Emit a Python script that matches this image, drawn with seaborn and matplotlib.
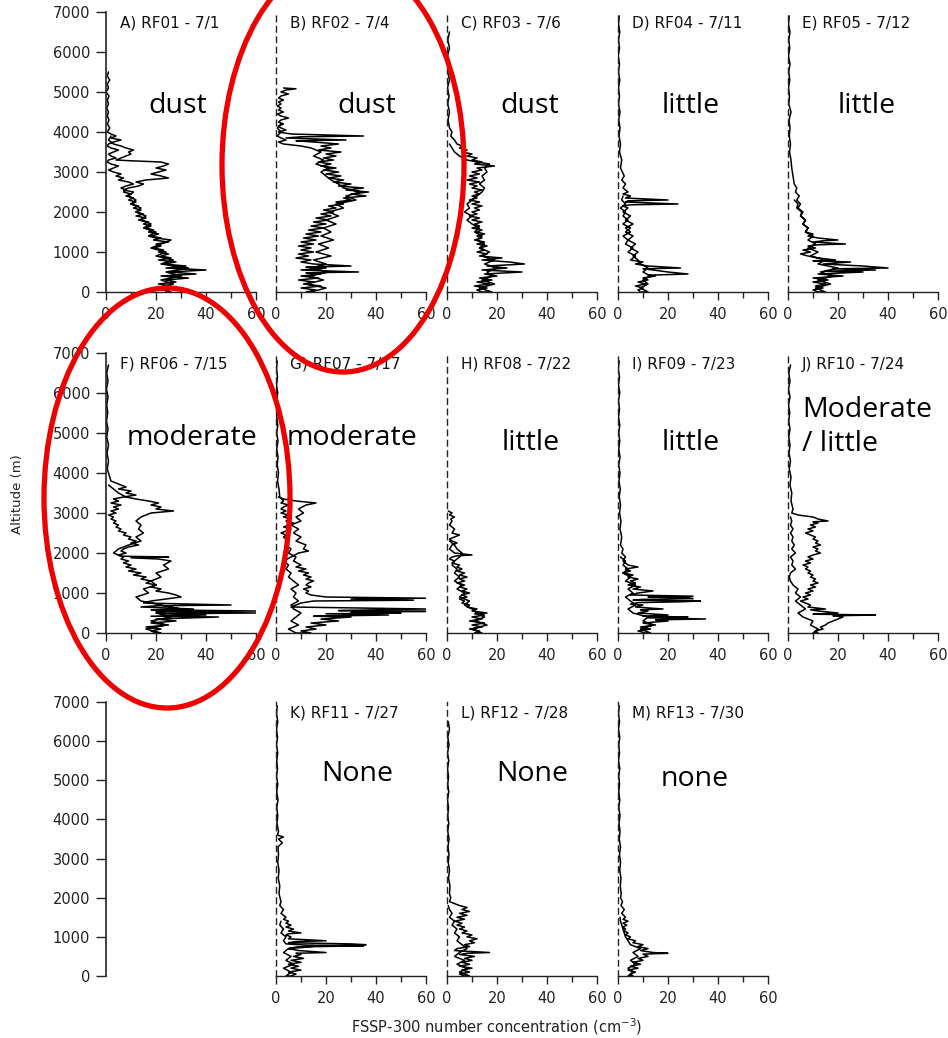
import matplotlib
matplotlib.use("Agg")
import matplotlib.pyplot as plt
from matplotlib.patches import Ellipse
import seaborn as sns
import pandas as pd

# ---------------- data: (altitude m, FSSP-300 concentration cm^-3) ----------------
rf01 = [(5500,1),(5400,0.5),(5300,1.5),(5200,0.5),(5100,1),(5000,0),(4900,1.2),(4800,0.5),(4700,1),(4600,0.3),
        (4500,1),(4400,0.5),(4300,1.2),(4200,0.6),(4100,1.5),(4000,0.5),(3950,2),(3900,4),(3850,2),(3800,6),
        (3750,3),(3700,1),(3650,0.5),(3600,2),(3550,5),(3500,3),(3450,1),(3400,2),(3350,4),(3300,1),(3250,0.5),
        (3200,2),(3150,5),(3100,3),(3050,1),(3000,3),(2950,6),(2900,4),(2850,7),(2800,5),(2750,9),(2700,11),
        (2650,8),(2600,6),(2550,8),(2500,7),(2450,10),(2400,8),(2350,11),(2300,9),(2250,12),(2200,10),(2150,13),
        (2100,11),(2050,14),(2000,12),(1950,15),(1900,12),(1850,16),(1800,13),(1750,17),(1700,15),(1650,18),
        (1600,16),(1550,19),(1500,17),(1450,21),(1400,18),(1350,22),(1300,19),(1250,25),(1200,20),(1150,22),
        (1100,19),(1050,23),(1000,21),(950,25),(900,22),(850,26),(800,21),(750,28),(700,23),(650,32),(600,24),
        (550,40),(500,25),(450,36),(400,22),(350,33),(300,24),(250,28),(200,21),(150,26),(100,22),(50,25),(0,24),
        (0,26),(100,20),(200,27),(300,22),(400,30),(500,24),(600,33),(700,22),(800,27),(900,20),(1000,24),
        (1100,18),(1200,22),(1300,26),(1350,20),(1400,17),(1500,20),(1600,15),(1700,18),(1800,14),(1900,16),
        (2000,12),(2100,14),(2200,10),(2300,12),(2400,9),(2500,11),(2550,7),(2600,9),(2650,13),(2700,15),
        (2750,12),(2800,16),(2850,25),(2900,22),(2950,18),(3000,21),(3050,24),(3100,20),(3150,23),(3200,25),
        (3250,22),(3280,10),(3300,4),(3350,6),(3400,8),(3450,10),(3500,9),(3550,11),(3600,8),(3650,6),(3700,3),
        (3800,1),(3900,2)]

rf02 = [(5100,3),(5080,8),(5050,4),(5000,2),(4950,5),(4900,2),(4850,1),(4800,3),(4750,1),(4700,2),(4650,0.5),
        (4600,2),(4550,1),(4500,3),(4450,0.5),(4400,2),(4350,5),(4300,2),(4250,1),(4200,3),(4150,1),(4100,2),
        (4050,4),(4000,1),(3950,6),(3900,35),(3880,10),(3850,4),(3800,28),(3780,8),(3750,15),(3700,25),(3650,18),
        (3600,22),(3550,17),(3500,26),(3450,20),(3400,24),(3350,19),(3300,23),(3250,17),(3200,22),(3150,18),
        (3100,24),(3050,19),(3000,25),(2950,20),(2900,26),(2850,21),(2800,27),(2750,23),(2700,30),(2650,25),
        (2600,35),(2550,28),(2500,37),(2450,30),(2400,36),(2350,27),(2300,30),(2250,24),(2200,27),(2150,21),
        (2100,24),(2050,19),(2000,23),(1950,18),(1900,22),(1850,16),(1800,21),(1750,15),(1700,20),(1650,14),
        (1600,19),(1550,13),(1500,18),(1450,12),(1400,17),(1350,11),(1300,16),(1250,10),(1200,15),(1150,9),
        (1100,14),(1050,10),(1000,15),(950,9),(900,13),(850,8),(800,14),(750,10),(700,15),(650,30),(620,12),
        (600,20),(550,10),(500,33),(480,12),(450,18),(400,10),(350,17),(300,9),(250,15),(200,11),(150,18),
        (100,10),(50,16),(0,12),
        (0,14),(100,20),(200,12),(300,19),(400,13),(500,21),(600,14),(700,20),(800,15),(900,22),(1000,16),
        (1100,21),(1200,17),(1300,23),(1400,18),(1500,22),(1600,19),(1700,24),(1800,20),(1900,25),(2000,21),
        (2100,27),(2200,24),(2300,32),(2400,28),(2500,34),(2600,27),(2700,25),(2800,22),(2900,20),(3000,18),
        (3100,21),(3200,16),(3300,19),(3400,15),(3500,18),(3600,14),(3650,10),(3700,3),(3750,1),(3800,4),
        (3850,2),(3900,0.5),(4000,2),(4100,0.5),(4200,2)]

rf03 = [(6500,1),(6300,0.3),(6100,1),(5900,0.2),(5700,0.8),(5500,0.3),(5300,1),(5100,0.2),(4900,0.8),(4700,0.3),
        (4500,1),(4300,0.4),(4100,1),(4000,2),(3900,1.5),(3800,3),(3700,4),(3650,6),(3600,5),(3550,8),(3500,6),
        (3450,10),(3400,8),(3350,12),(3300,10),(3250,14),(3200,11),(3150,19),(3100,12),(3050,14),(3000,10),
        (2950,13),(2900,9),(2850,12),(2800,8),(2750,13),(2700,9),(2650,12),(2600,10),(2550,14),(2500,11),
        (2450,13),(2400,10),(2350,12),(2300,9),(2250,13),(2200,10),(2150,14),(2100,11),(2050,13),(2000,10),
        (1950,12),(1900,9),(1850,13),(1800,10),(1750,14),(1700,11),(1650,13),(1600,10),(1550,14),(1500,12),
        (1450,15),(1400,12),(1350,14),(1300,11),(1250,15),(1200,12),(1150,16),(1100,13),(1050,15),(1000,12),
        (950,16),(900,13),(850,22),(800,14),(750,25),(700,31),(650,16),(600,24),(550,14),(500,30),(450,15),
        (400,20),(350,13),(300,18),(250,12),(200,17),(150,11),(100,16),(50,12),(0,14),
        (0,18),(100,13),(200,19),(300,14),(400,18),(500,16),(600,20),(700,15),(800,19),(900,14),(1000,17),
        (1100,13),(1200,15),(1300,12),(1400,14),(1500,11),(1600,13),(1700,10),(1800,8),(1900,10),(2000,7),
        (2100,9),(2200,8),(2300,10),(2400,12),(2500,14),(2600,15),(2700,13),(2800,15),(2900,14),(3000,16),
        (3100,15),(3200,17),(3250,12),(3300,8),(3400,5),(3500,3),(3600,2),(3700,1)]

rf04 = [(6900,0.5),(6700,0.2),(6500,0.7),(6300,0.2),(6100,0.6),(5900,0.1),(5700,0.6),(5500,0.2),(5300,0.7),
        (5100,0.2),(4900,0.6),(4700,0.2),(4500,0.8),(4300,0.3),(4100,0.8),(3900,0.4),(3700,1),(3500,0.6),
        (3300,1.5),(3100,1),(2900,2.5),(2800,1.5),(2700,3),(2600,2),(2500,4),(2450,2),(2400,5),(2350,3),
        (2300,20),(2280,4),(2250,3),(2200,24),(2180,5),(2150,2),(2100,4),(2000,2),(1900,5),(1800,3),(1700,6),
        (1600,3),(1500,5),(1400,2),(1300,4),(1200,3),(1100,6),(1000,4),(900,7),(800,5),(750,10),(700,7),
        (650,12),(600,25),(580,10),(550,14),(500,20),(450,28),(420,12),(400,15),(350,10),(300,12),(250,8),
        (200,11),(150,7),(100,10),(50,8),(0,9),
        (0,12),(100,9),(200,12),(300,10),(400,13),(500,10),(600,12),(700,9),(800,8),(900,6),(1000,8),(1100,5),
        (1200,7),(1300,4),(1400,6),(1500,3),(1600,5),(1700,2),(1800,4),(1900,2),(2000,3),(2100,1),(2200,3),
        (2300,1.5),(2400,2)]

rf05 = [(6900,0.5),(6700,0.2),(6500,0.8),(6300,0.3),(6100,0.7),(5900,0.2),(5700,0.8),(5500,0.3),(5300,0.7),
        (5100,0.2),(4900,0.6),(4700,0.3),(4500,1.2),(4300,0.4),(4100,0.8),(3900,0.5),(3700,1),(3500,0.6),
        (3300,1.2),(3100,1.5),(2900,2),(2700,2.5),(2600,3.5),(2500,3),(2400,4.5),(2300,3.5),(2200,5),(2100,4),
        (2000,6),(1900,5),(1800,7),(1700,6),(1600,8),(1500,7),(1450,10),(1400,8),(1350,12),(1300,20),(1280,14),
        (1250,10),(1200,23),(1180,12),(1150,8),(1100,11),(1050,6),(1000,9),(950,5),(900,8),(850,12),(800,19),
        (780,10),(750,25),(700,14),(650,30),(600,40),(580,18),(550,35),(520,15),(500,30),(450,12),(400,22),
        (350,10),(300,16),(250,10),(200,15),(150,11),(100,14),(50,10),(0,12),
        (0,15),(100,11),(200,17),(300,12),(400,18),(500,13),(600,20),(700,12),(800,15),(900,9),(1000,12),
        (1100,8),(1200,11),(1300,8),(1400,10),(1500,7),(1600,8),(1700,6),(1800,7),(1900,5),(2000,5.5),
        (2100,3.5),(2200,4),(2300,2.5)]

rf06 = [(6700,1),(6500,0.3),(6300,0.8),(6100,0.2),(5900,0.8),(5700,0.3),(5500,0.7),(5300,0.2),(5100,0.8),
        (4900,0.3),(4700,1),(4500,0.4),(4300,1),(4100,0.5),(3900,1.5),(3800,2),(3750,4),(3700,6),(3650,8),
        (3600,5),(3550,10),(3500,8),(3450,12),(3400,7),(3350,3),(3300,5),(3250,2),(3200,6),(3150,3),(3100,5),
        (3050,2),(3000,4),(2950,1),(2900,3),(2850,2),(2800,4),(2750,3),(2700,5),(2650,4),(2600,6),(2550,5),
        (2500,8),(2450,7),(2400,10),(2350,9),(2300,12),(2250,10),(2200,13),(2150,9),(2100,7),(2050,6),(2000,8),
        (1950,5),(1900,7),(1850,6),(1800,9),(1750,7),(1700,10),(1650,8),(1600,12),(1550,9),(1500,14),(1450,11),
        (1400,16),(1350,14),(1300,18),(1250,16),(1200,20),(1150,18),(1100,22),(1050,20),(1000,25),(950,28),
        (900,30),(850,24),(800,18),(750,15),(700,50),(680,20),(650,14),(600,35),(580,18),(550,60),(530,20),
        (500,60),(480,22),(450,40),(420,18),(400,45),(350,20),(300,28),(250,18),(200,25),(150,16),(100,22),
        (50,18),(0,20),
        (0,22),(100,16),(200,24),(300,18),(400,26),(500,20),(600,30),(700,22),(800,14),(900,12),(1000,17),
        (1100,15),(1200,20),(1300,18),(1400,22),(1500,20),(1600,25),(1700,23),(1800,26),(1850,21),(1880,10),
        (1900,25),(1920,6),(2000,3),(2100,5),(2200,9),(2300,14),(2400,12),(2500,15),(2600,13),(2700,14),
        (2800,12),(2900,14),(3000,18),(3050,27),(3100,20),(3150,22),(3200,18),(3250,21),(3300,17),(3350,12),
        (3400,8),(3500,5),(3600,3),(3700,1)]

rf07 = [(6800,0.5),(6600,0.2),(6400,0.6),(6200,0.2),(6000,0.7),(5800,0.2),(5600,0.6),(5400,0.3),(5200,0.7),
        (5000,0.3),(4800,0.8),(4600,0.3),(4400,0.8),(4200,0.5),(4000,1),(3800,0.6),(3600,1.2),(3400,1.5),
        (3300,3),(3250,2),(3200,5),(3150,3),(3100,2),(3050,4),(3000,2),(2950,5),(2900,3),(2850,6),(2800,4),
        (2750,7),(2700,5),(2650,3),(2600,6),(2550,4),(2500,2),(2450,4),(2400,3),(2300,5),(2200,4),(2100,6),
        (2000,5),(1900,8),(1800,7),(1700,10),(1650,8),(1600,12),(1550,9),(1500,13),(1450,11),(1400,14),
        (1350,12),(1300,15),(1250,13),(1200,12),(1150,14),(1100,11),(1050,13),(1000,12),(950,14),(900,20),
        (870,60),(850,30),(820,55),(800,15),(750,10),(700,8),(650,6),(600,60),(580,40),(560,25),(540,60),
        (520,30),(500,50),(480,20),(450,45),(420,15),(400,30),(350,18),(300,25),(250,14),(200,20),(150,12),
        (100,16),(50,10),(0,14),
        (0,8),(100,5),(200,9),(300,6),(400,8),(500,10),(600,7),(700,6),(800,9),(900,7),(1000,8),(1100,6),
        (1200,9),(1300,7),(1400,5),(1500,6),(1600,4),(1700,5),(1800,3),(1900,6),(2000,9),(2050,13),(2100,11),
        (2200,12),(2300,8),(2400,10),(2500,7),(2600,9),(2700,6),(2800,10),(2900,8),(3000,11),(3100,9),
        (3200,12),(3250,16),(3300,8),(3350,3),(3400,1)]

rf08 = [(3050,0.5),(3000,2),(2950,1),(2900,3),(2850,1.5),(2800,2),(2700,1),(2600,3),(2500,2),(2450,5),(2400,3),
        (2350,1),(2300,2),(2250,4),(2200,2),(2100,1),(2000,3),(1950,10),(1930,4),(1900,2),(1850,1),(1800,3),
        (1750,2),(1700,5),(1650,4),(1600,6),(1550,4),(1500,7),(1450,5),(1400,8),(1350,5),(1300,7),(1250,4),
        (1200,7),(1150,5),(1100,8),(1050,6),(1000,9),(950,6),(900,8),(850,5),(800,7),(750,6),(700,9),(650,8),
        (600,12),(550,10),(500,16),(480,11),(450,15),(400,10),(350,14),(300,9),(250,15),(200,10),(150,14),
        (100,9),(50,13),(0,11),
        (0,14),(100,10),(200,16),(300,11),(400,15),(500,12),(600,10),(700,7),(800,9),(900,5),(1000,7),(1100,4),
        (1200,6),(1300,3),(1400,5),(1500,3),(1600,4),(1700,2),(1800,3),(1900,5),(2000,6),(2100,4),(2200,3),
        (2300,1)]

rf09 = [(6800,0.5),(6600,0.1),(6400,0.6),(6200,0.2),(6000,0.7),(5800,0.2),(5600,0.6),(5400,0.2),(5200,0.7),
        (5000,0.3),(4800,0.7),(4600,0.3),(4400,0.8),(4200,0.3),(4000,0.8),(3800,0.4),(3600,0.9),(3400,0.5),
        (3200,1),(3000,0.6),(2800,1.2),(2600,0.8),(2400,1.5),(2200,1),(2100,2),(2000,1.5),(1900,3),(1800,2),
        (1700,4),(1650,8),(1600,3),(1550,5),(1500,2),(1450,6),(1400,4),(1350,8),(1300,5),(1250,7),(1200,4),
        (1150,9),(1100,6),(1050,14),(1000,8),(950,5),(920,30),(900,12),(880,28),(860,30),(840,10),(820,6),
        (800,33),(780,25),(760,8),(720,5),(700,10),(650,7),(600,18),(580,9),(550,12),(500,8),(450,20),(420,10),
        (400,28),(380,12),(350,35),(330,15),(300,20),(250,10),(200,15),(150,9),(100,13),(50,8),(0,11),
        (0,13),(100,9),(200,14),(300,10),(400,12),(500,6),(600,4),(700,7),(800,5),(900,3),(1000,6),(1100,4),
        (1200,7),(1300,3),(1400,5),(1500,2),(1600,4),(1700,2),(1800,3),(1900,1)]

rf10 = [(6700,1),(6500,0.3),(6300,0.8),(6100,0.2),(5900,0.8),(5700,0.2),(5500,0.7),(5300,0.3),(5100,0.8),
        (4900,0.3),(4700,0.8),(4500,0.4),(4300,1),(4100,0.5),(3900,1.2),(3700,0.8),(3500,1.5),(3300,1.2),
        (3100,2),(3000,1.5),(2950,4),(2900,10),(2850,12),(2800,16),(2780,10),(2750,12),(2700,9),(2650,11),
        (2600,8),(2550,10),(2500,7),(2450,9),(2400,11),(2350,10),(2300,12),(2250,11),(2200,13),(2150,10),
        (2100,12),(2050,11),(2000,13),(1950,10),(1900,8),(1850,10),(1800,7),(1750,9),(1700,6),(1650,8),
        (1600,7),(1550,9),(1500,8),(1450,10),(1400,9),(1350,11),(1300,10),(1250,12),(1200,9),(1150,11),
        (1100,8),(1050,10),(1000,7),(950,9),(900,6),(850,8),(800,5),(750,7),(700,9),(650,8),(600,15),(580,9),
        (550,12),(500,20),(470,10),(450,35),(430,18),(400,22),(350,20),(300,18),(250,16),(200,15),(150,13),
        (100,14),(50,11),(0,12),
        (0,10),(100,12),(200,9),(300,10),(400,6),(500,4),(600,7),(700,5),(800,3),(900,5),(1000,3),(1100,4),
        (1200,2),(1300,1),(1400,0.5),(1500,1),(1600,3),(1700,1.5),(1800,2),(1900,1),(2000,3),(2100,1.5),
        (2200,2.5),(2300,1.5),(2400,2),(2500,1),(2600,2),(2700,1),(2800,1.5),(2900,1)]

rf11 = [(6900,0.5),(6700,0.2),(6500,0.7),(6300,0.2),(6100,0.6),(5900,0.2),(5700,0.7),(5500,0.3),(5300,0.6),
        (5100,0.2),(4900,0.7),(4700,0.3),(4500,0.8),(4300,0.3),(4100,0.7),(3900,0.4),(3700,1),(3600,0.6),
        (3550,3),(3500,1),(3400,2.5),(3300,0.8),(3100,1),(2900,0.7),(2700,1.2),(2500,0.9),(2300,1.5),(2100,1.2),
        (1900,2),(1800,1.5),(1700,3),(1600,2),(1500,4),(1450,3),(1400,5),(1350,4),(1300,6),(1250,4),(1200,7),
        (1150,5),(1100,10),(1080,5),(1050,4),(1000,6),(950,5),(900,20),(880,8),(850,5),(820,30),(800,36),
        (780,28),(760,15),(740,8),(700,5),(650,9),(600,20),(580,8),(550,10),(500,7),(450,11),(400,6),(350,10),
        (300,5),(250,9),(200,6),(150,10),(100,5),(50,8),(0,6),
        (0,4),(100,6),(200,3),(300,7),(400,4),(500,6),(600,3),(700,5),(750,15),(770,35),(790,12),(820,4),
        (900,3),(1000,4),(1100,2),(1200,3),(1300,1.5),(1400,2)]

rf12 = [(6500,0.5),(6300,1),(6100,0.3),(5900,0.8),(5700,0.2),(5500,0.7),(5300,0.2),(5100,0.6),(4900,0.3),
        (4700,0.7),(4500,0.2),(4300,0.6),(4100,0.3),(3900,0.7),(3700,0.3),(3500,0.8),(3300,0.4),(3100,0.8),
        (2900,0.5),(2700,1),(2500,0.6),(2300,1.2),(2100,1),(2000,1.5),(1900,1),(1850,3),(1800,5),(1750,8),
        (1700,6),(1650,9),(1600,5),(1550,8),(1500,4),(1450,7),(1400,3),(1350,6),(1300,4),(1250,7),(1200,5),
        (1150,8),(1100,6),(1050,10),(1000,8),(950,12),(900,9),(850,11),(800,7),(750,9),(700,4),(650,3),
        (600,17),(580,8),(550,5),(500,11),(450,7),(400,10),(350,6),(300,9),(250,5),(200,10),(150,6),(100,9),
        (50,5),(0,7),
        (0,9),(100,5),(200,8),(300,4),(400,7),(500,3),(600,5),(700,8),(800,6),(900,4),(1000,5),(1100,3),
        (1200,4),(1300,2),(1400,3),(1500,1),(1600,2),(1700,1),(1800,0.5)]

rf13 = [(6900,0.5),(6700,0.2),(6500,0.6),(6300,0.2),(6100,0.7),(5900,0.3),(5700,0.6),(5500,0.2),(5300,0.7),
        (5100,0.3),(4900,0.6),(4700,0.3),(4500,0.7),(4300,0.3),(4100,0.8),(3900,0.4),(3700,0.8),(3500,0.5),
        (3300,1),(3100,0.6),(2900,1),(2700,0.7),(2500,1.2),(2300,0.9),(2100,1.3),(2000,1),(1900,1.8),(1800,1.2),
        (1700,2.5),(1600,1.5),(1500,3),(1450,2),(1400,4),(1350,2),(1300,3.5),(1250,2),(1200,3),(1150,2.5),
        (1100,4),(1050,3),(1000,5),(950,4),(900,7),(850,6),(800,10),(750,8),(700,12),(650,9),(600,14),
        (580,20),(560,10),(500,12),(450,8),(400,10),(350,6),(300,9),(250,5),(200,8),(150,4),(100,7),(50,5),
        (0,6),
        (0,4),(100,6),(200,4),(300,7),(400,5),(500,8),(600,6),(700,9),(800,5),(900,4),(1000,3),(1100,2.5),
        (1200,2),(1300,1.5),(1400,1),(1500,0.8)]

panel_titles = ["A) RF01 - 7/1", "B) RF02 - 7/4", "C) RF03 - 7/6", "D) RF04 - 7/11", "E) RF05 - 7/12",
                "F) RF06 - 7/15", "G) RF07 - 7/17", "H) RF08 - 7/22", "I) RF09 - 7/23", "J) RF10 - 7/24",
                "K) RF11 - 7/27", "L) RF12 - 7/28", "M) RF13 - 7/30"]
profiles = [rf01, rf02, rf03, rf04, rf05, rf06, rf07, rf08, rf09, rf10, rf11, rf12, rf13]
dust_notes = ["dust", "dust", "dust", "little", "little",
              "moderate", "moderate", "little", "little", "Moderate\n/ little",
              "None", "None", "none"]
x_ticks = [0, 20, 40, 60]
y_ticks = [0, 1000, 2000, 3000, 4000, 5000, 6000, 7000]
x_label = "FSSP-300 number concentration (cm$^{-3}$)"
y_label = "Altitude (m)"

# ---------------- layout ----------------
W, H = 948, 1038
sns.set_style("ticks")
plt.rcParams["font.family"] = ["DejaVu Sans"]
plt.rcParams["mathtext.fontset"] = "dejavusans"

fig = plt.figure(figsize=(W / 100, H / 100), dpi=100)
fig.patch.set_facecolor("white")

col_left = [106, 276, 447, 618, 788]
row_span = [(12, 292), (353, 633), (702, 976)]
grid_pos = [(0, 0), (0, 1), (0, 2), (0, 3), (0, 4),
            (1, 0), (1, 1), (1, 2), (1, 3), (1, 4),
            (2, 1), (2, 2), (2, 3)]
note_pos = [(178, 113, "center"), (367, 113, "center"), (530, 113, "center"), (691, 113, "center"),
            (867, 113, "center"), (192, 445, "center"), (352, 445, "center"), (531, 450, "center"),
            (691, 450, "center"), (802, 451, "left"), (357, 781, "center"), (532, 781, "center"),
            (695, 786, "center")]
PANEL_W = 150


def rect(left, top, w, h):
    return [left / W, 1 - (top + h) / H, w / W, h / H]


def style_axes(ax, first_col, show_x=True):
    ax.set_xlim(0, 60)
    ax.set_ylim(0, 7000)
    ax.set_facecolor("none")
    for s in ["top", "right"]:
        ax.spines[s].set_visible(False)
    ax.spines["bottom"].set_linewidth(1.0)
    ax.spines["bottom"].set_color("#222222")
    ax.spines["left"].set_color("#222222")
    ax.set_xlabel("")
    ax.set_ylabel("")
    if show_x:
        ax.set_xticks(x_ticks)
        ax.set_xticks([10, 30, 50], minor=True)
        ax.tick_params(axis="x", which="major", length=6, width=1.0, pad=5,
                       labelsize=10.5, colors="#222222")
        ax.tick_params(axis="x", which="minor", length=4, width=1.0, colors="#222222")
    else:
        ax.spines["bottom"].set_visible(False)
        ax.set_xticks([])
    if first_col:
        ax.spines["left"].set_linewidth(1.2)
        ax.set_yticks(y_ticks)
        ax.set_yticklabels([str(v) for v in y_ticks])
        ax.tick_params(axis="y", which="major", length=7.5, width=1.0, pad=4,
                       labelsize=10.5, colors="#222222")
    else:
        ax.spines["left"].set_linestyle((0, (4, 3.5)))
        ax.spines["left"].set_linewidth(1.0)
        ax.set_yticks([])


for title, prof, (r, c), note, (nx, ny, nha) in zip(panel_titles, profiles, grid_pos, dust_notes, note_pos):
    top, bot = row_span[r]
    ax = fig.add_axes(rect(col_left[c], top, PANEL_W, bot - top))
    df = pd.DataFrame(prof, columns=["alt", "conc"])
    sns.lineplot(data=df, x="conc", y="alt", sort=False, estimator=None,
                 color="black", linewidth=1.1, ax=ax)
    style_axes(ax, first_col=(c == 0))
    # panel label
    ax.annotate(title, xy=(0, 1), xycoords="axes fraction", xytext=(10, -11.5),
                textcoords="offset points", ha="left", va="baseline", fontsize=11, color="#111111")
    # big hand-written note
    fig.text(nx / W, 1 - ny / H, note, ha=nha, va="baseline", fontsize=20.5,
             family=["Open Sans", "DejaVu Sans"], color="black", linespacing=1.3,
             multialignment="left")

# empty axis (bottom-left) that only carries the altitude scale
top, bot = row_span[2]
ax_empty = fig.add_axes(rect(col_left[0], top, PANEL_W, bot - top))
style_axes(ax_empty, first_col=True, show_x=False)

fig.text(18 / W, 1 - 494 / H, y_label, rotation=90, ha="center", va="center", fontsize=9.5,
         color="#222222")
fig.text(497 / W, 1 - 1027 / H, x_label, ha="center", va="center", fontsize=10.5, color="#222222")

# red ellipses overlay
ov = fig.add_axes([0, 0, 1, 1], zorder=10)
ov.set_xlim(0, W)
ov.set_ylim(H, 0)
ov.axis("off")
ov.add_patch(Ellipse((343, 165), 242, 414, fill=False, edgecolor="#ee0000", linewidth=3.8))
ov.add_patch(Ellipse((167, 498), 246, 420, fill=False, edgecolor="#ee0000", linewidth=3.8))

fig.savefig("out.png", dpi=100, facecolor="white")
